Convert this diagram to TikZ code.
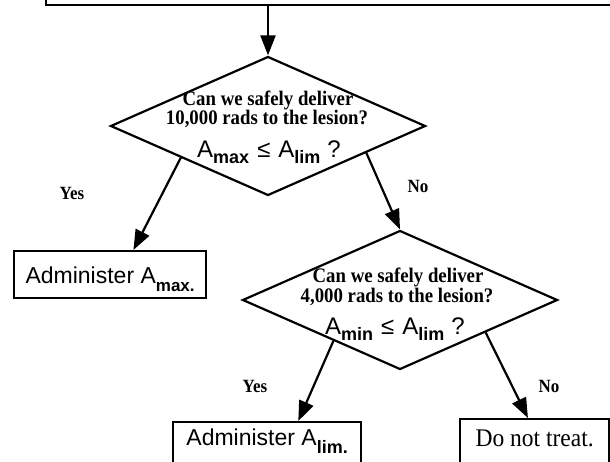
\documentclass[tikz,border=0pt]{standalone}
\usepackage{fontspec}
\setmainfont{Liberation Serif}
\setsansfont{Liberation Sans}
\usetikzlibrary{shapes.geometric,arrows.meta,calc}
\newcommand{\tallbf}[1]{\scalebox{1}[1.1]{#1}}
\begin{document}
\begin{tikzpicture}[x=1pt,y=-1pt,
  dia/.style={draw, diamond, line width=2.2pt, minimum width=315pt, minimum height=139pt, inner sep=0pt},
  boxn/.style={draw, rectangle, line width=2.2pt, inner xsep=0pt, inner ysep=0pt, anchor=north west},
  qline/.style={anchor=base, inner sep=0pt, font=\bfseries\fontsize{18.8}{18}\selectfont},
  qform/.style={anchor=base, inner sep=0pt, font=\sffamily\fontsize{24}{24}\selectfont},
  ans/.style={inner sep=0pt, font=\bfseries\fontsize{17}{17}\selectfont},
  arr/.style={line width=2.2pt, -{Triangle[length=20pt,width=15pt]}},
]
\useasboundingbox (0,0) rectangle (610,462);
\fill[white] (0,0) rectangle (610,462);
\clip (0,0) rectangle (610,462);

% top box (only its lower part is visible)
\node[draw, rectangle, line width=2.2pt, minimum width=654pt, minimum height=65pt, inner sep=0pt] (top) at (373,-27.5) {};

% decisions
\node[dia] (d1) at (268,126) {};
\node[qline] (d1a) at (268,106) {\tallbf{Can we safely deliver}};
\node[qline] (d1b) at (267,125) {\tallbf{10,000 rads to the lesion?}};
\node[qform] (d1c) at (269,158) {A\raisebox{-6pt}{\bfseries\fontsize{18}{18}\selectfont max}\hspace{8pt}≤\hspace{8pt}A\raisebox{-6pt}{\bfseries\fontsize{18}{18}\selectfont lim}\hspace{7pt}?};

\node[dia] (d2) at (400,300) {};
\node[qline] (d2a) at (398,283) {\tallbf{Can we safely deliver}};
\node[qline] (d2b) at (397,302) {\tallbf{4,000 rads to the lesion?}};
\node[qform] (d2c) at (395,334) {A\raisebox{-6pt}{\bfseries\fontsize{18}{18}\selectfont min}\hspace{8pt}≤\hspace{8pt}A\raisebox{-6pt}{\bfseries\fontsize{18}{18}\selectfont lim}\hspace{7pt}?};

% outcome boxes
\node[boxn, minimum width=192pt, text height=32pt, text depth=15pt,
      font=\sffamily\fontsize{23}{23}\selectfont] (b1) at (13,250)
      {Administer A\raisebox{-8pt}{\bfseries\fontsize{17}{17}\selectfont max.}};
\node[boxn, minimum width=188pt, text height=23pt, text depth=50pt,
      font=\sffamily\fontsize{23}{23}\selectfont] (b2) at (172,421)
      {Administer A\raisebox{-8pt}{\bfseries\fontsize{18}{18}\selectfont lim.}};
\node[boxn, minimum width=149pt, text height=27pt, text depth=50pt,
      font=\fontsize{23.5}{23.5}\selectfont] (b3) at (459,418) {\scalebox{1}[1.08]{Do not treat.}};

% answer labels
\node[ans] (y1) at (72,193) {\tallbf{Yes}};
\node[ans] (n1) at (418,186) {\tallbf{No}};
\node[ans] (y2) at (255,386) {\tallbf{Yes}};
\node[ans] (n2) at (549,386) {\tallbf{No}};

% connectors
\draw[arr] (top.south -| d1.north) -- (d1.north);
\draw[arr] ($(d1.west)!0.45!(d1.south)$) -- ($(b1.north west)!0.62!(b1.north east)$);
\draw[arr] ($(d1.east)!0.38!(d1.south)$) -- (d2.north);
\draw[arr] ($(d2.west)!0.58!(d2.south)$) -- ($(b2.north west)!0.664!(b2.north east)$);
\draw[arr] ($(d2.east)!0.46!(d2.south)$) -- ($(b3.north west)!0.456!(b3.north east)$);
\end{tikzpicture}
\end{document}
